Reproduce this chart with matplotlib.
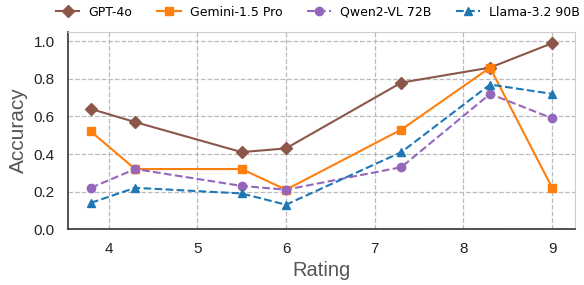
import matplotlib
matplotlib.use("Agg")
import matplotlib.pyplot as plt

ratings = [3.8, 4.3, 5.5, 6.0, 7.3, 8.3, 9.0]
gpt4o = [0.64, 0.57, 0.41, 0.43, 0.78, 0.86, 0.99]
gemini = [0.52, 0.32, 0.32, 0.21, 0.53, 0.86, 0.22]
qwen = [0.22, 0.32, 0.23, 0.21, 0.33, 0.72, 0.59]
llama = [0.14, 0.22, 0.19, 0.13, 0.41, 0.77, 0.72]

fig = plt.figure(figsize=(5.84, 2.85), dpi=100)
ax = fig.add_axes([0.116, 0.196, 0.869, 0.692])

ax.plot(ratings, gpt4o, color='tab:brown', marker='D', markersize=6, linestyle='-', linewidth=1.5, label='GPT-4o')
ax.plot(ratings, gemini, color='tab:orange', marker='s', markersize=6, linestyle='-', linewidth=1.5, label='Gemini-1.5 Pro')
ax.plot(ratings, qwen, color='tab:purple', marker='o', markersize=6, linestyle='--', linewidth=1.5, label='Qwen2-VL 72B')
ax.plot(ratings, llama, color='tab:blue', marker='^', markersize=6, linestyle='--', linewidth=1.5, label='Llama-3.2 90B')

ax.set_ylim(0, 1.05)
ax.set_xticks([4, 5, 6, 7, 8, 9])
ax.set_yticks([0.0, 0.2, 0.4, 0.6, 0.8, 1.0])
ax.grid(True, linestyle='--', color='#bbbbbb', linewidth=0.9)
ax.set_axisbelow(True)
ax.tick_params(axis='both', labelsize=11, length=0, colors='#222222', pad=9.5)
for lbl in ax.get_xticklabels() + ax.get_yticklabels():
    lbl.set_family('Liberation Sans')
ax.set_xlabel('Rating', fontsize=14.5, color='#555555', family='Liberation Sans', labelpad=3)
ax.set_ylabel('Accuracy', fontsize=15, color='#555555', family='Liberation Sans', labelpad=4)

for side in ['left', 'bottom']:
    ax.spines[side].set_color('#333333')
    ax.spines[side].set_linewidth(1.2)
for side in ['top', 'right']:
    ax.spines[side].set_color('#cccccc')

fig.legend(loc='upper left', bbox_to_anchor=(0.076, 1.02), ncol=4, frameon=False,
           fontsize=9, handlelength=1.9, handletextpad=0.7, columnspacing=2.0)

plt.savefig('out.png', dpi=100)
